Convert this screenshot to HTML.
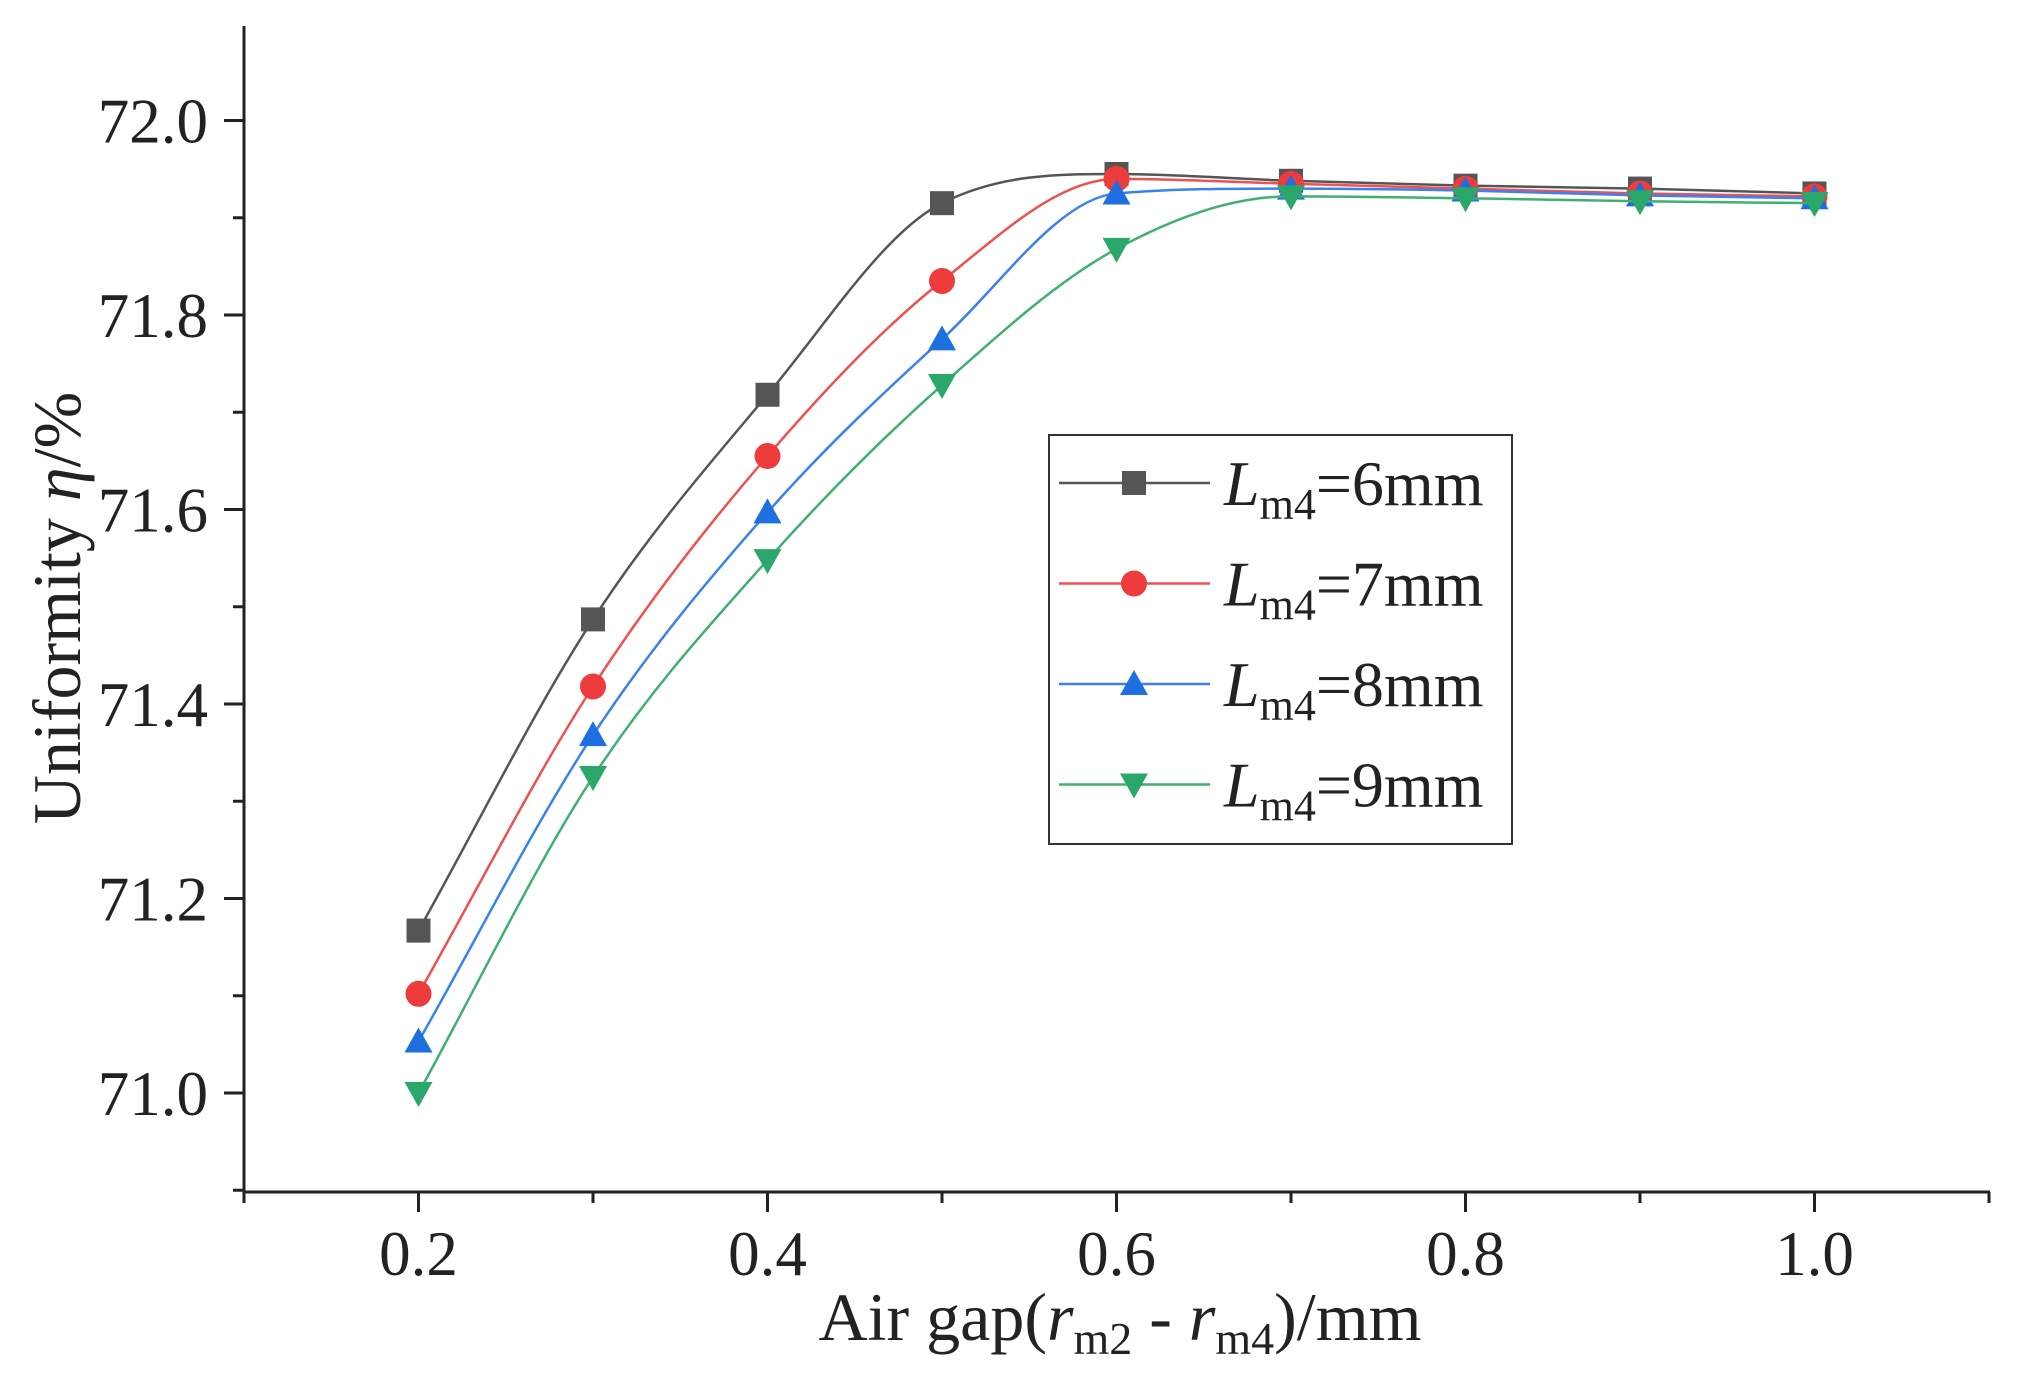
<!DOCTYPE html>
<html><head><meta charset="utf-8"><style>
html,body{margin:0;padding:0;background:#fff}
svg{display:block}
text{font-family:"Liberation Serif",serif;fill:#222}
</style></head><body>
<svg id="chart" width="2022" height="1386" viewBox="0 0 2022 1386" xmlns="http://www.w3.org/2000/svg">
<g id="axes"></g>
<g id="plot"></g>
<g id="legend"></g>
</svg>
<script>
const xValues = [0.2,0.3,0.4,0.5,0.6,0.7,0.8,0.9,1.0];
const seriesNames = ["6mm","7mm","8mm","9mm"];
const seriesL6 = [71.167,71.487,71.718,71.915,71.945,71.938,71.933,71.930,71.925];
const seriesL7 = [71.102,71.418,71.655,71.835,71.940,71.935,71.930,71.925,71.922];
const seriesL8 = [71.053,71.368,71.597,71.775,71.925,71.930,71.928,71.923,71.920];
const seriesL9 = [71.000,71.325,71.548,71.728,71.868,71.922,71.920,71.917,71.915];
const yTicks = [71.0,71.2,71.4,71.6,71.8,72.0];
const yMinorTicks = [70.9,71.1,71.3,71.5,71.7,71.9,72.1];
const xTicks = [0.2,0.4,0.6,0.8,1.0];
const xMinorTicks = [0.1,0.3,0.5,0.7,0.9,1.1];

const NS="http://www.w3.org/2000/svg";
const X0=244, X1=1990, Y0=1192, Y1=26;
function sx(v){return 244+(v-0.1)*1745;}
function sy(v){return 120.5+(72.0-v)*972.5;}
function mk(tag,attrs,parent){const e=document.createElementNS(NS,tag);for(const k in attrs)e.setAttribute(k,attrs[k]);parent.appendChild(e);return e;}
const axes=document.getElementById('axes'),plot=document.getElementById('plot'),legend=document.getElementById('legend');

let a=mk('line',{x1:X0,y1:Y1,x2:X0,y2:Y0,stroke:'#222','stroke-width':3},axes);


a=mk('line',{x1:X0,y1:Y0,x2:X1,y2:Y0,stroke:'#222','stroke-width':3},axes);


yTicks.forEach(v=>{
  const y=sy(v);
  let t=mk('line',{x1:X0-20,y1:y,x2:X0,y2:y,stroke:'#222','stroke-width':3},axes);
  
  
  let l=mk('text',{x:208,y:y+22,'text-anchor':'end','font-size':63},axes);
  l.textContent=v.toFixed(1);
  
  
});
yMinorTicks.forEach(v=>{
  const y=sy(v); if(y<Y1||y>Y0)return;
  let t=mk('line',{x1:X0-11,y1:y,x2:X0,y2:y,stroke:'#222','stroke-width':3},axes);
  
  
});
xTicks.forEach(v=>{
  const x=sx(v);
  let t=mk('line',{x1:x,y1:Y0,x2:x,y2:Y0+20,stroke:'#222','stroke-width':3},axes);
  
  
  let l=mk('text',{x:x,y:1275,'text-anchor':'middle','font-size':63},axes);
  l.textContent=v.toFixed(1);
  
  
});
xMinorTicks.forEach(v=>{
  const x=sx(v);
  let t=mk('line',{x1:x,y1:Y0,x2:x,y2:Y0+11,stroke:'#222','stroke-width':3},axes);
  
  
});
let xt=mk('text',{x:1120,y:1340,'text-anchor':'middle','font-size':68},axes);
xt.innerHTML='Air gap(<tspan font-style="italic">r</tspan><tspan font-size="46" dy="14">m2</tspan><tspan dy="-14"> - </tspan><tspan font-style="italic">r</tspan><tspan font-size="46" dy="14">m4</tspan><tspan dy="-14">)/mm</tspan>';


let yt=mk('text',{x:0,y:0,'text-anchor':'middle','font-size':68,transform:'translate(80,608) rotate(-90)'},axes);
yt.innerHTML='Uniformity <tspan font-style="italic">η</tspan>/%';



const colors=['#555555','#ee3b3b','#1e6fe0','#2aa86a'];
const lineColors=['#555555','#f05050','#3b82f0','#40b070'];
const allSeries=[seriesL6,seriesL7,seriesL8,seriesL9];
const shapes=['square','circle','up','down'];
function marker(shape,x,y,c,parent){
  const s=12;
  if(shape==='square')return mk('rect',{x:x-s,y:y-s,width:2*s,height:2*s,fill:c},parent);
  if(shape==='circle')return mk('circle',{cx:x,cy:y,r:13,fill:c},parent);
  if(shape==='up')return mk('polygon',{points:`${x},${y-14} ${x+14},${y+11} ${x-14},${y+11}`,fill:c},parent);
  return mk('polygon',{points:`${x},${y+14} ${x+14},${y-11} ${x-14},${y-11}`,fill:c},parent);
}
allSeries.forEach((vals,i)=>{
  const pts=vals.map((v,j)=>[sx(xValues[j]),sy(v)]);
  // monotone cubic (Fritsch-Carlson) to avoid overshoot
  const n=pts.length, dx=[], m=[], t=[];
  for(let j=0;j<n-1;j++){dx[j]=pts[j+1][0]-pts[j][0];m[j]=(pts[j+1][1]-pts[j][1])/dx[j];}
  t[0]=m[0];t[n-1]=m[n-2];
  for(let j=1;j<n-1;j++){t[j]=(m[j-1]*m[j]<=0)?0:(m[j-1]+m[j])/2;}
  for(let j=0;j<n-1;j++){
    if(m[j]===0){t[j]=0;t[j+1]=0;continue;}
    const al=t[j]/m[j],be=t[j+1]/m[j],s=al*al+be*be;
    if(s>9){const k=3/Math.sqrt(s);t[j]=k*al*m[j];t[j+1]=k*be*m[j];}
  }
  let d=`M${pts[0][0]},${pts[0][1]}`;
  for(let j=0;j<n-1;j++){
    const h=dx[j]/3;
    d+=` C${pts[j][0]+h},${pts[j][1]+t[j]*h} ${pts[j+1][0]-h},${pts[j+1][1]-t[j+1]*h} ${pts[j+1][0]},${pts[j+1][1]}`;
  }
  const p=mk('path',{d:d,fill:'none',stroke:lineColors[i],'stroke-width':2.5},plot);
  
  
  pts.forEach(q=>{
    const mm=marker(shapes[i],q[0],q[1],colors[i],plot);
    
    
  });
});
const box=mk('rect',{x:1049,y:435,width:463,height:409,fill:'#fff',stroke:'#333','stroke-width':2},legend);


seriesNames.forEach((n,i)=>{
  const y=483+i*100.5;
  const g=mk('g',{},legend);
  
  
  mk('line',{x1:1059,y1:y,x2:1210,y2:y,stroke:lineColors[i],'stroke-width':2.5},g);
  marker(shapes[i],1134,y,colors[i],g);
  const t=mk('text',{x:1224,y:y+22,'font-size':64},g);
  t.innerHTML='<tspan font-style="italic">L</tspan><tspan font-size="44" dy="14">m4</tspan><tspan dy="-14">='+n+'</tspan>';
});
</script>
</body></html>
